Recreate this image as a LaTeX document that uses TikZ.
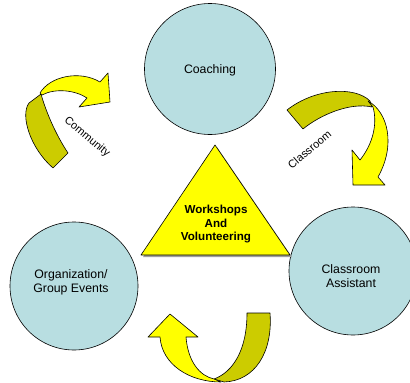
\documentclass[tikz,border=0pt]{standalone}
\usepackage{fontspec}
\setmainfont{Liberation Sans}

\definecolor{topicblue}{RGB}{184,222,225}
\definecolor{ribbonfront}{RGB}{255,255,0}
\definecolor{ribbonback}{RGB}{204,204,0}

\tikzset{
  topic/.style={circle, draw, line width=0.6pt, fill=topicblue, inner sep=0pt},
  topictext/.style={align=center, font=\fontsize{12.3}{14}\selectfont},
  front/.style={draw, line width=0.6pt, fill=ribbonfront, line join=round},
  back/.style={draw, line width=0.6pt, fill=ribbonback, line join=round},
  tag/.style={font=\fontsize{11}{13}\selectfont}
}

\begin{document}
\begin{tikzpicture}[x=1pt,y=-1pt]
	\useasboundingbox (0,0) rectangle (410,383);
	\clip (0,0) rectangle (410,383);

	% the three circles
	\node[topic, minimum size=131pt] (coach) at (210,69) {};
	\node[topic, minimum size=128pt] (assist) at (353,271) {};
	\node[topic, minimum size=128pt] (events) at (74,286) {};
	\node[topictext] (coachtext) at (210,70) {Coaching};
	\node[topictext] (assisttext) at (351,276) {Classroom\\Assistant};
	\node[topictext] (eventstext) at (71,282) {Organization/\\Group Events};

	% triangle in the middle, with its shadow
	\coordinate (apex) at (215,145);
	\coordinate (baseL) at (141,255);
	\coordinate (baseR) at (290,255);
	\fill[gray!75] ([shift={(2,2)}]apex) -- ([shift={(2,2)}]baseR) -- ([shift={(2,2)}]baseL) -- cycle;
	\draw[line width=0.6pt, fill=ribbonfront, line join=round] (apex) -- (baseR) -- (baseL) -- cycle;
	\node[align=center, font=\bfseries\fontsize{11.6}{13.5}\selectfont] (work) at (216,224.5)
		{Workshops\\And\\Volunteering};

	% curved arrow, upper left
	\draw[back] (53,168) -- (68,153) .. controls (56,135) and (46,112) .. (41,94)
		-- (29,103) .. controls (20,115) and (30,148) .. (53,168) -- cycle;
	\draw[front] (40,93) .. controls (50,76) and (80,70) .. (100,82) -- (108,73)
		-- (110,102) -- (79,107) -- (87,98) .. controls (75,90) and (55,88) .. (42,95) -- cycle;
	\node[tag, rotate=-40] (community) at (87,137) {Community};

	% curved arrow, upper right
	\draw[back] (287,110) -- (303,129) .. controls (320,115) and (350,102) .. (372,107)
		-- (370,101) .. controls (355,86) and (315,88) .. (287,110) -- cycle;
	\draw[front] (368,101) .. controls (388,112) and (396,145) .. (378,177) -- (385,185)
		-- (353,185) -- (352,150) -- (360,160) .. controls (372,145) and (378,125) .. (373,107) -- cycle;
	\node[tag, rotate=40] (classroom) at (309.5,149.5) {Classroom};

	% curved arrow, bottom
	\draw[back] (247,313) -- (270,313) .. controls (273,352) and (255,381) .. (224,382)
		-- (214,379) .. controls (233,372) and (247,350) .. (247,313) -- cycle;
	\draw[front] (170,314) -- (198,337) -- (186,337) .. controls (188,362) and (200,376) .. (214,379)
		-- (221,382) .. controls (190,382) and (162,365) .. (160,337) -- (148,337) -- cycle;
\end{tikzpicture}
\end{document}
